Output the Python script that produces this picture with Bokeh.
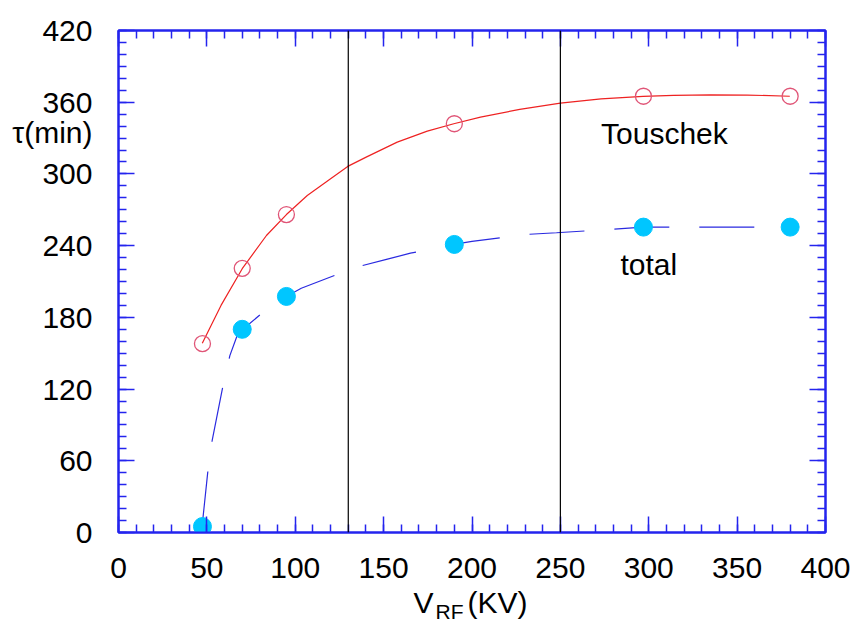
from bokeh.plotting import figure
from bokeh.models import (Range1d, LinearAxis, SingleIntervalTicker, FixedTicker, Span,
                          Label, ColumnDataSource)
from bokeh.embed import file_html
from bokeh.resources import INLINE

# ---- data ----
v_rf = [47.5, 70, 95, 190, 297, 380]
tau_touschek = [158, 221, 266, 342, 365, 365]
tau_total = [5, 170, 197.5, 241, 255.5, 255.5]

# smooth fit curves
fit_t_x = [47.4, 58, 70, 83.7, 95, 106.8, 120, 129.7, 140.7, 157.7, 174.7, 189.7, 204.8, 227, 250, 273, 296.8, 314, 335, 355.7, 379.8]
fit_t_y = [158.4, 190, 220.7, 248.5, 266, 282, 296, 306.3, 314.5, 326.6, 335.8, 342, 347.5, 354, 359.3, 362.8, 364.9, 365.8, 366.2, 366, 365]
fit_tot_x = [47.3, 50.5, 53, 59, 63, 67.2, 70, 85.6, 95, 103.4, 134.6, 151.6, 165.2, 182.2, 189.7, 200, 230.8, 247.8, 278.7, 296.8, 379.8]
fit_tot_y = [5.3, 50.5, 77, 122, 148, 165, 169.6, 189, 197.5, 204.4, 222, 228.5, 233.7, 238.7, 241, 243.5, 249.4, 250.8, 253.6, 255.5, 255.5]

v_lines = [130, 250]

x_ticks = [0, 50, 100, 150, 200, 250, 300, 350, 400]
y_ticks = [0, 60, 120, 180, 240, 300, 360, 420]

y_title = "τ(min)"
y_title_at = 335
x_title_main = ["V", "(KV)"]
x_title_main_at = [172.6, 214.4]
x_title_sub = ["RF"]
x_title_sub_at = [187.3]

FONT = "Liberation Sans"
BLUE = "#2424ee"

p = figure(width=858, height=626, output_backend="svg", toolbar_location=None,
           x_range=Range1d(0, 400), y_range=Range1d(0, 420),
           min_border_left=118, min_border_right=33, min_border_top=30, min_border_bottom=94,
           x_axis_location=None, y_axis_location=None)
p.grid.visible = False
p.outline_line_color = BLUE
p.outline_line_width = 2
p.background_fill_color = "white"
p.border_fill_color = "white"


def tick_axis(ticker):
    ax = LinearAxis(ticker=ticker)
    ax.axis_line_color = BLUE
    ax.axis_line_width = 2
    ax.major_tick_line_color = BLUE
    ax.minor_tick_line_color = BLUE
    ax.major_tick_line_width = 1.5
    ax.minor_tick_line_width = 1.5
    ax.major_tick_in = 16
    ax.major_tick_out = 0
    ax.minor_tick_in = 8
    ax.minor_tick_out = 0
    ax.major_label_text_font_size = "0px"
    ax.major_label_standoff = 0
    return ax


def text_axis(ticks, overrides, size, standoff):
    ax = LinearAxis(ticker=FixedTicker(ticks=ticks, minor_ticks=[]))
    ax.axis_line_color = None
    ax.major_tick_line_color = None
    ax.minor_tick_line_color = None
    ax.major_tick_in = 0
    ax.major_tick_out = 0
    ax.minor_tick_in = 0
    ax.minor_tick_out = 0
    ax.major_label_text_font = FONT
    ax.major_label_text_font_size = size
    ax.major_label_text_color = "black"
    ax.major_label_standoff = standoff
    ax.major_label_overrides = overrides
    return ax

# tick-mark axes on all four sides (added first: closest to the frame)
p.add_layout(tick_axis(SingleIntervalTicker(interval=50, num_minor_ticks=5)), "below")
p.add_layout(tick_axis(SingleIntervalTicker(interval=50, num_minor_ticks=5)), "above")
p.add_layout(tick_axis(SingleIntervalTicker(interval=60, num_minor_ticks=6)), "left")
p.add_layout(tick_axis(SingleIntervalTicker(interval=60, num_minor_ticks=6)), "right")

# label axes
p.add_layout(text_axis(x_ticks, {}, "30px", 25), "below")
p.add_layout(text_axis(x_title_main_at, dict(zip(x_title_main_at, x_title_main)), "30px", 5), "below")
p.add_layout(text_axis(x_title_sub_at, dict(zip(x_title_sub_at, x_title_sub)), "21px", -22), "below")
p.add_layout(text_axis(y_ticks + [y_title_at], {y_title_at: y_title}, "30px", 26), "left")

for xv in v_lines:
    p.add_layout(Span(location=xv, dimension="height", line_color="black", line_width=1.2))

p.line(fit_t_x, fit_t_y, line_color="#ee2222", line_width=1.2)
p.line(fit_tot_x, fit_tot_y, line_color="#2a2ae0", line_width=1.2, line_dash="55 30")

src = ColumnDataSource(dict(x=v_rf, t=tau_touschek, tot=tau_total))
p.scatter("x", "t", source=src, size=16, fill_color=None, line_color="#e05577", line_width=1.3)
p.scatter("x", "tot", source=src, size=18, fill_color="#00c6ff", line_color="#00c6ff")

for x, y, t in [(273, 334, "Touschek"), (284, 224, "total")]:
    p.add_layout(Label(x=x, y=y, text=t, text_font=FONT, text_font_size="30px",
                       text_color="black", text_align="left", text_baseline="alphabetic"))

open("out.html", "w").write(file_html(p, INLINE))
